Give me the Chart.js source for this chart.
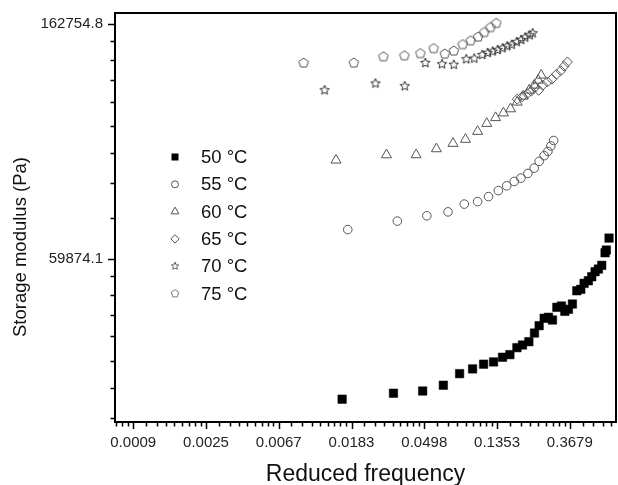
<!DOCTYPE html>
<html>
<head>
<meta charset="utf-8">
<script src="https://cdn.jsdelivr.net/npm/chart.js"></script>
<style>
  body { margin: 0; background: #fff; }
  #chart-wrap { width: 618px; height: 485px; }
</style>
</head>
<body>
<div id="chart-wrap"><canvas id="modulus-chart"></canvas></div>
<script>
'use strict';

// temperature series
const seriesLabels = ['50 °C', '55 °C', '60 °C', '65 °C', '70 °C', '75 °C'];

const freq50 = [0.0161, 0.0326, 0.0487, 0.0647, 0.0809, 0.0967, 0.1125, 0.1290, 0.1459, 0.1615, 0.1778, 0.1920, 0.2096, 0.2264, 0.2414, 0.2586, 0.2743, 0.2898, 0.3078, 0.3279, 0.3435, 0.3609, 0.3812, 0.4050, 0.4278, 0.4476, 0.4748, 0.4975, 0.5205, 0.5446, 0.5706, 0.5971, 0.6077, 0.6307];
const mod50 = [32960, 33810, 34130, 34980, 36750, 37500, 38260, 38630, 39410, 39850, 41050, 41520, 42110, 43690, 45080, 46520, 46720, 46180, 48750, 49020, 47920, 48340, 49440, 52310, 52630, 53990, 54590, 55530, 56730, 57380, 58290, 61500, 62210, 65470];

const freq55 = [0.0174, 0.0344, 0.0516, 0.0690, 0.0863, 0.1036, 0.1204, 0.1378, 0.1546, 0.1714, 0.1878, 0.2068, 0.2254, 0.2414, 0.2586, 0.2724, 0.2835, 0.2946];
const mod55 = [67880, 70380, 71990, 73200, 75660, 76470, 78120, 80140, 81790, 83330, 84520, 86220, 88190, 90780, 93000, 94720, 96920, 99210];

const freq60 = [0.0148, 0.0296, 0.0445, 0.0588, 0.0739, 0.0877, 0.1036, 0.1175, 0.1326, 0.1477, 0.1629, 0.1785, 0.1939, 0.2105, 0.2254, 0.2381, 0.2482];
const mod60 = [91240, 93320, 93320, 95740, 97960, 99660, 103100, 106660, 109330, 111540, 113500, 116790, 119800, 122900, 125540, 128250, 131010];

const freq65 = [0.1785, 0.1912, 0.2048, 0.2164, 0.2286, 0.2398, 0.2533, 0.2705, 0.2874, 0.3061, 0.3251, 0.3402, 0.3560];
const mod65 = [118290, 119550, 121100, 122380, 124480, 122900, 125540, 127330, 128800, 131560, 133530, 136120, 138630];

const freq70 = [0.01265, 0.02546, 0.03805, 0.05054, 0.06356, 0.0747, 0.0887, 0.0990, 0.1105, 0.1188, 0.1273, 0.1363, 0.1459, 0.1557, 0.1656, 0.1773, 0.1886, 0.1992, 0.2120, 0.2208];
const mod70 = [122900, 126470, 125020, 138040, 137280, 136990, 140240, 140650, 142830, 144050, 144970, 145890, 146960, 148210, 149170, 150890, 152230, 153860, 155320, 156640];

const freq75 = [0.00948, 0.0189, 0.0284, 0.0379, 0.0472, 0.0566, 0.0660, 0.0747, 0.0843, 0.0941, 0.1043, 0.1136, 0.1236, 0.1339];
const mod75 = [138040, 138040, 141740, 142350, 143680, 146770, 143430, 145280, 149290, 151720, 154200, 157170, 160560, 163460];

// axis ticks (natural log axes: e^-7 .. e^-1 and e^11, e^12)
const xTickValues = [0.000912, 0.002479, 0.006738, 0.018316, 0.049787, 0.135335, 0.367879];
const xTickLabels = ['0.0009', '0.0025', '0.0067', '0.0183', '0.0498', '0.1353', '0.3679'];
const yTickValues = [59874.14, 162754.79];
const yTickLabels = ['59874.1', '162754.8'];

const xMin = 0.00071;
const xMax = 0.694;
const yMin = 29910;
const yMax = 170760;

const FONT = '"Liberation Sans", Arial, sans-serif';
const OPEN_GREY = '#555';

function makeMarker(kind, size, color, lineWidth) {
  const canvas = document.createElement('canvas');
  canvas.width = size;
  canvas.height = size;
  const g = canvas.getContext('2d');
  const c = size / 2;
  const outer = size / 2 - 1;
  g.strokeStyle = color;
  g.lineWidth = lineWidth;
  g.beginPath();
  if (kind === 'pentagon') {
    for (let i = 0; i < 5; i++) {
      const a = -Math.PI / 2 + i * 2 * Math.PI / 5;
      g.lineTo(c + outer * Math.cos(a), c + outer * Math.sin(a));
    }
  } else {
    for (let i = 0; i < 10; i++) {
      const r = i % 2 ? outer * 0.45 : outer;
      const a = -Math.PI / 2 + i * Math.PI / 5;
      g.lineTo(c + r * Math.cos(a), c + r * Math.sin(a));
    }
  }
  g.closePath();
  g.stroke();
  return canvas;
}

const pentagonMarker = makeMarker('pentagon', 12, OPEN_GREY, 1);
const starMarker = makeMarker('star', 12, '#333', 1);

const seriesStyles = [
  { pointStyle: 'rect', pointRadius: 6, backgroundColor: '#000', borderColor: '#000', borderWidth: 0.5 },
  { pointStyle: 'circle', pointRadius: 4.3, backgroundColor: 'rgba(0,0,0,0)', borderColor: OPEN_GREY, borderWidth: 1 },
  { pointStyle: 'triangle', pointRadius: 5.8, backgroundColor: 'rgba(0,0,0,0)', borderColor: OPEN_GREY, borderWidth: 1 },
  { pointStyle: 'rectRot', pointRadius: 5, backgroundColor: 'rgba(0,0,0,0)', borderColor: OPEN_GREY, borderWidth: 1 },
  { pointStyle: starMarker, pointRadius: 5, backgroundColor: 'rgba(0,0,0,0)', borderColor: '#333', borderWidth: 1 },
  { pointStyle: pentagonMarker, pointRadius: 5, backgroundColor: 'rgba(0,0,0,0)', borderColor: OPEN_GREY, borderWidth: 1 },
];

const freqs = [freq50, freq55, freq60, freq65, freq70, freq75];
const mods = [mod50, mod55, mod60, mod65, mod70, mod75];

const datasets = seriesLabels.map((label, i) => ({
  label: label,
  data: freqs[i].map((f, j) => ({ x: f, y: mods[i][j] })),
  pointHoverRadius: seriesStyles[i].pointRadius,
  ...seriesStyles[i],
}));

// legend marker drawn by hand, a bit smaller than the plot markers
function drawLegendMarker(ctx, i, x, y) {
  const style = seriesStyles[i];
  ctx.save();
  ctx.strokeStyle = style.borderColor;
  ctx.fillStyle = style.backgroundColor;
  ctx.lineWidth = 1;
  ctx.beginPath();
  if (style.pointStyle === 'rect') {
    ctx.fillRect(x - 3.5, y - 3.5, 7, 7);
  } else if (style.pointStyle === 'circle') {
    ctx.arc(x, y, 3.5, 0, Math.PI * 2);
    ctx.stroke();
  } else if (style.pointStyle === 'triangle') {
    const r = 4.5;
    for (let k = 0; k < 3; k++) {
      const a = -Math.PI / 2 + k * 2 * Math.PI / 3;
      ctx.lineTo(x + r * Math.cos(a), y + r * Math.sin(a));
    }
    ctx.closePath();
    ctx.stroke();
  } else if (style.pointStyle === 'rectRot') {
    const r = 4.2;
    ctx.moveTo(x, y - r);
    ctx.lineTo(x + r, y);
    ctx.lineTo(x, y + r);
    ctx.lineTo(x - r, y);
    ctx.closePath();
    ctx.stroke();
  } else {
    const img = style.pointStyle;
    ctx.drawImage(img, x - img.width * 0.4, y - img.height * 0.4, img.width * 0.8, img.height * 0.8);
  }
  ctx.restore();
}

const insideLegend = {
  id: 'insideLegend',
  afterDraw(chart) {
    const { ctx } = chart;
    ctx.save();
    ctx.font = '18.5px ' + FONT;
    ctx.fillStyle = '#111';
    ctx.textAlign = 'left';
    ctx.textBaseline = 'middle';
    seriesLabels.forEach((label, i) => {
      const y = 157 + i * 27.3;
      drawLegendMarker(ctx, i, 175, y);
      ctx.fillText(label, 201, y + 1);
    });
    ctx.restore();
  }
};

const frameAndTicks = {
  id: 'frameAndTicks',
  afterDraw(chart) {
    const { ctx, chartArea: area } = chart;
    const xScale = chart.scales.x;
    const yScale = chart.scales.y;
    ctx.save();
    ctx.strokeStyle = '#000';
    ctx.lineWidth = 1.5;
    ctx.beginPath();
    // x ticks, linear minors between powers of e
    for (let n = -8; n <= -1; n++) {
      const lo = Math.exp(n);
      const hi = Math.exp(n + 1);
      for (let k = 0; k < 9; k++) {
        const v = lo + k * (hi - lo) / 9;
        if (v < xMin || v > xMax) continue;
        const px = Math.round(xScale.getPixelForValue(v)) + 0.5;
        const len = k === 0 ? 7 : 4.5;
        ctx.moveTo(px, area.bottom);
        ctx.lineTo(px, area.bottom + len);
      }
    }
    for (let n = 10; n <= 12; n++) {
      const lo = Math.exp(n);
      const hi = Math.exp(n + 1);
      for (let k = 0; k < 9; k++) {
        const v = lo + k * (hi - lo) / 9;
        if (v < yMin || v > yMax) continue;
        const py = Math.round(yScale.getPixelForValue(v)) + 0.5;
        const len = k === 0 ? 7 : 4.5;
        ctx.moveTo(area.left, py);
        ctx.lineTo(area.left - len, py);
      }
    }
    ctx.stroke();
    ctx.lineWidth = 2;
    ctx.strokeRect(area.left, area.top, area.right - area.left, area.bottom - area.top);
    ctx.restore();
  }
};

const axisTitles = {
  id: 'axisTitles',
  afterDraw(chart) {
    const { ctx, chartArea: area } = chart;
    ctx.save();
    ctx.fillStyle = '#111';
    ctx.textAlign = 'center';
    ctx.textBaseline = 'alphabetic';
    ctx.font = '23px ' + FONT;
    ctx.fillText('Reduced frequency', (area.left + area.right) / 2, 481);
    ctx.translate(26, 247);
    ctx.rotate(-Math.PI / 2);
    ctx.font = '18.5px ' + FONT;
    ctx.fillText('Storage modulus (Pa)', 0, 0);
    ctx.restore();
  }
};

const chartContext = document.querySelector('#modulus-chart').getContext('2d');

const chartConfig = {
  type: 'scatter',
  data: { datasets: datasets },
  options: {
    responsive: true,
    maintainAspectRatio: false,
    animation: false,
    layout: { autoPadding: false, padding: { top: 13, right: 2, left: 0, bottom: 0 } },
    plugins: {
      legend: { display: false },
      tooltip: { enabled: false },
    },
    scales: {
      x: {
        type: 'logarithmic',
        position: 'bottom',
        min: xMin,
        max: xMax,
        grid: { display: false, drawTicks: false },
        border: { display: false },
        afterBuildTicks: (scale) => {
          scale.ticks = xTickValues.map((v) => ({ value: v }));
        },
        afterFit: (scale) => {
          scale.height = 63;
          scale.paddingLeft = 0;
          scale.paddingRight = 0;
        },
        ticks: {
          autoSkip: false,
          maxRotation: 0,
          padding: 12,
          color: '#222',
          font: { family: FONT, size: 15 },
          callback: (value, index) => xTickLabels[index],
        },
      },
      y: {
        type: 'logarithmic',
        position: 'left',
        min: yMin,
        max: yMax,
        grid: { display: false, drawTicks: false },
        border: { display: false },
        afterBuildTicks: (scale) => {
          scale.ticks = yTickValues.map((v) => ({ value: v }));
        },
        afterFit: (scale) => {
          scale.width = 115;
          scale.paddingTop = 0;
          scale.paddingBottom = 0;
        },
        ticks: {
          autoSkip: false,
          padding: 12,
          color: '#222',
          font: { family: FONT, size: 15 },
          callback: (value, index) => yTickLabels[index],
        },
      },
    },
  },
  plugins: [frameAndTicks, insideLegend, axisTitles],
};

const chart = new Chart(chartContext, chartConfig);
</script>
</body>
</html>
